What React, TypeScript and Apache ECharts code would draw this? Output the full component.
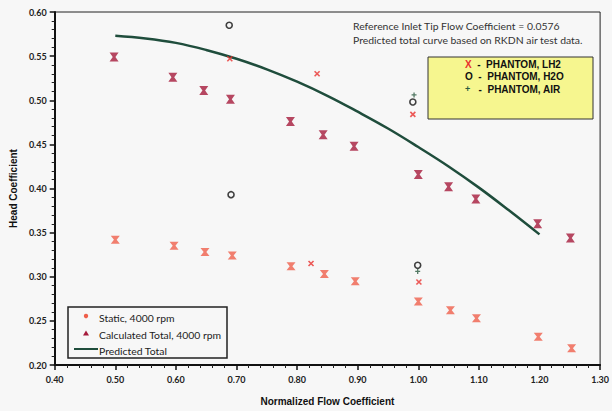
import React, { useEffect, useRef } from "react";
import * as echarts from "echarts";

// Static, 4000 rpm
const staticX = [0.5, 0.597, 0.648, 0.693, 0.79, 0.845, 0.896, 1.0, 1.053, 1.096, 1.198, 1.253];
const staticY = [0.342, 0.335, 0.328, 0.324, 0.312, 0.303, 0.295, 0.272, 0.262, 0.253, 0.232, 0.219];
// Calculated Total, 4000 rpm
const calcX = [0.498, 0.595, 0.646, 0.69, 0.789, 0.843, 0.894, 1.0, 1.05, 1.095, 1.197, 1.251];
const calcY = [0.549, 0.526, 0.511, 0.501, 0.476, 0.461, 0.448, 0.416, 0.402, 0.388, 0.36, 0.344];
// Predicted Total curve
const predX = [0.5, 0.55, 0.6, 0.65, 0.7, 0.75, 0.8, 0.85, 0.9, 0.95, 1.0, 1.05, 1.1, 1.15, 1.2];
const predY = [0.573, 0.57, 0.565, 0.557, 0.547, 0.535, 0.521, 0.505, 0.487, 0.468, 0.447, 0.425, 0.401, 0.375, 0.348];
// PHANTOM points
const lh2X = [0.689, 0.833, 0.991, 0.823, 1.001];
const lh2Y = [0.547, 0.53, 0.484, 0.315, 0.294];
const h2oX = [0.688, 0.691, 0.991, 0.999];
const h2oY = [0.585, 0.393, 0.498, 0.313];
const airX = [0.993, 0.999];
const airY = [0.506, 0.306];

const xTicks = ["0.40", "0.50", "0.60", "0.70", "0.80", "0.90", "1.00", "1.10", "1.20", "1.30"];
const yTicks = ["0.20", "0.25", "0.30", "0.35", "0.40", "0.45", "0.50", "0.55", "0.60"];

const zip = (xs: number[], ys: number[]) => xs.map((x, i) => [x, ys[i]]);

const HOURGLASS = "path://M0,0L10,0L6.5,5L10,10L0,10L3.5,5Z";
const XMARK = "path://M0,0L10,10M10,0L0,10";
const PLUS = "path://M5,0L5,10M0,5L10,5";

export default function App() {
  const ref = useRef<HTMLDivElement>(null);
  useEffect(() => {
    if (!ref.current) return;
    const chart = echarts.init(ref.current, null, { renderer: "svg" });
    const axisLabel = {
      fontFamily: "Lato",
      fontWeight: "bold" as const,
      fontSize: 9,
      color: "#222",
    };
    chart.setOption({
      animation: false,
      backgroundColor: "#f7f7f7",
      grid: {
        left: 53,
        right: 10,
        top: 12,
        bottom: 44,
        show: true,
        borderColor: "#222",
        borderWidth: 1,
        backgroundColor: "transparent",
      },
      xAxis: {
        type: "value",
        min: 0.4,
        max: 1.3,
        interval: 0.1,
        name: "Normalized Flow Coefficient",
        nameLocation: "middle",
        nameGap: 31,
        nameTextStyle: { fontFamily: "Liberation Sans", fontWeight: "bold", fontSize: 10, color: "#111" },
        axisLine: { lineStyle: { color: "#111", width: 2 } },
        axisTick: { inside: false, length: 5, lineStyle: { color: "#111", width: 1.5 } },
        minorTick: { show: true, splitNumber: 5, length: 3, lineStyle: { color: "#222", width: 1 } },
        splitLine: { show: false },
        axisLabel: {
          ...axisLabel,
          margin: 10,
          formatter: (v: number) => xTicks[Math.round((v - 0.4) / 0.1)] ?? "",
        },
      },
      yAxis: {
        type: "value",
        min: 0.2,
        max: 0.6,
        interval: 0.05,
        name: "Head Coefficient",
        nameLocation: "middle",
        nameGap: 35,
        nameTextStyle: { fontFamily: "Liberation Sans", fontWeight: "bold", fontSize: 10, color: "#111" },
        axisLine: { lineStyle: { color: "#111", width: 2 } },
        axisTick: { inside: false, length: 5, lineStyle: { color: "#111", width: 1.5 } },
        minorTick: { show: true, splitNumber: 5, length: 3, lineStyle: { color: "#222", width: 1 } },
        splitLine: { show: false },
        axisLabel: {
          ...axisLabel,
          margin: 8,
          formatter: (v: number) => yTicks[Math.round((v - 0.2) / 0.05)] ?? "",
        },
      },
      series: [
        {
          name: "Predicted Total",
          type: "line",
          data: zip(predX, predY),
          smooth: 0.4,
          showSymbol: false,
          symbol: "none",
          lineStyle: { color: "#1f4d3c", width: 2.5 },
          z: 2,
        },
        {
          name: "Static, 4000 rpm",
          type: "scatter",
          data: zip(staticX, staticY),
          symbol: HOURGLASS,
          symbolSize: [9, 8],
          itemStyle: { color: "#ef5f4b" },
          z: 3,
        },
        {
          name: "Calculated Total, 4000 rpm",
          type: "scatter",
          data: zip(calcX, calcY),
          symbol: HOURGLASS,
          symbolSize: [9, 9],
          itemStyle: { color: "#a51a3b" },
          z: 3,
        },
        {
          name: "PHANTOM, LH2",
          type: "scatter",
          data: zip(lh2X, lh2Y),
          symbol: XMARK,
          symbolSize: 5,
          itemStyle: { color: "none", borderColor: "#e8312e", borderWidth: 1.6 },
          z: 4,
        },
        {
          name: "PHANTOM, H2O",
          type: "scatter",
          data: zip(h2oX, h2oY),
          symbol: "circle",
          symbolSize: 6,
          itemStyle: { color: "none", borderColor: "#111", borderWidth: 1.6 },
          z: 4,
        },
        {
          name: "PHANTOM, AIR",
          type: "scatter",
          data: zip(airX, airY),
          symbol: PLUS,
          symbolSize: 5,
          itemStyle: { color: "none", borderColor: "#2b5a40", borderWidth: 1.3 },
          z: 4,
        },
      ],
      graphic: [
        {
          type: "text",
          left: 353,
          top: 19,
          style: {
            text: "Reference Inlet Tip Flow Coefficient = 0.0576\nPredicted total curve based on RKDN air test data.",
            fontFamily: "Lato",
            fontSize: 10.4,
            lineHeight: 14,
            fill: "#333",
          },
        },
        {
          type: "rect",
          shape: { x: 428, y: 57, width: 165, height: 62 },
          style: { fill: "#f6f68f", stroke: "#333", lineWidth: 1 },
          z: 10,
        },
        {
          type: "text",
          left: 465,
          top: 58,
          z: 11,
          style: {
            text: "{r|X}{b|  -  PHANTOM, LH2}\n{k|O}{b|  -  PHANTOM, H2O}\n{g|+}{b|   -  PHANTOM, AIR}",
            lineHeight: 12.5,
            rich: {
              r: { fill: "#e8312e", fontFamily: "Liberation Sans", fontWeight: "bold", fontSize: 10, lineHeight: 12.5 },
              k: { fill: "#111", fontFamily: "Liberation Sans", fontWeight: "bold", fontSize: 10, lineHeight: 12.5 },
              g: { fill: "#2b5a40", fontFamily: "Liberation Sans", fontWeight: "bold", fontSize: 9, lineHeight: 12.5 },
              b: { fill: "#111", fontFamily: "Liberation Sans", fontWeight: "bold", fontSize: 10, lineHeight: 12.5 },
            },
          },
        },
        {
          type: "rect",
          shape: { x: 68, y: 307, width: 159, height: 51 },
          style: { fill: "#f7f7f7", stroke: "#222", lineWidth: 1.5 },
          z: 10,
        },
        {
          type: "circle",
          shape: { cx: 86, cy: 316, r: 2.2 },
          style: { fill: "#ef5f4b" },
          z: 11,
        },
        {
          type: "polygon",
          shape: { points: [[86, 330.5], [89, 335.5], [83, 335.5]] },
          style: { fill: "#a51a3b" },
          z: 11,
        },
        {
          type: "line",
          shape: { x1: 74, y1: 349, x2: 98, y2: 349 },
          style: { stroke: "#1f4d3c", lineWidth: 2 },
          z: 11,
        },
        {
          type: "text",
          left: 99,
          top: 310,
          z: 11,
          style: {
            text: "Static, 4000 rpm\nCalculated Total, 4000 rpm\nPredicted Total",
            fontFamily: "Lato",
            fontSize: 10.4,
            lineHeight: 16.5,
            fill: "#222",
          },
        },
      ],
    });
    return () => chart.dispose();
  }, []);
  return (
    <div
      ref={ref}
      style={{ position: "absolute", left: 0, top: 0, width: 612, height: 411 }}
    />
  );
}
